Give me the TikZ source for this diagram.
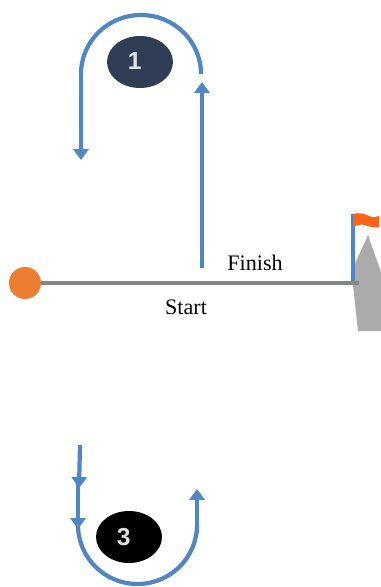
\documentclass[tikz,border=0pt]{standalone}
\usepackage{fontspec}
\setmainfont{Liberation Serif}
\newfontfamily\numfont{Liberation Sans}
\usetikzlibrary{arrows.meta, shapes.geometric}
\definecolor{trackblue}{HTML}{5086C1}
\definecolor{markorange}{HTML}{ED7D31}
\definecolor{flagorange}{HTML}{FF6418}
\definecolor{slate}{HTML}{2F3E54}
\tikzset{
    track/.style={draw=trackblue, line width=2.4pt},
    trackarrow/.style={track, -{Triangle[length=6.2pt, width=8.6pt]}},
    turnmark/.style={ellipse, minimum width=1.32cm, minimum height=1.04cm, inner sep=0pt, text=white!88!black, font=\numfont\bfseries\fontsize{14}{16}\selectfont},
    caption/.style={inner sep=0pt, font=\fontsize{12.6}{15}\selectfont},
}
\begin{document}
\begin{tikzpicture}[x=0.02cm, y=-0.02cm]
    \useasboundingbox (0, 0) rectangle (381, 587);
    % boat and flag
    \fill[black!33] (368, 235) -- (381, 272) -- (381, 331) -- (358, 331) -- (353, 285) -- (353, 268) -- cycle;
    \coordinate (poletop) at (353, 214);
    \coordinate (polefoot) at (353, 283);
    \draw[draw=trackblue, line width=1.8pt] (poletop) -- (polefoot);
    \fill[flagorange] (353, 214) .. controls (359, 212) and (365, 214) .. (369, 216) .. controls (373, 218) and (376, 217) .. (379, 216) -- (379, 227) .. controls (374, 228) and (370, 227) .. (365, 225) .. controls (361, 224) and (357, 225) .. (353, 227) -- cycle;
    % line
    \node[circle, fill=markorange, minimum size=0.64cm, inner sep=0pt] (buoy) at (25, 283) {};
    \coordinate (lineend) at (359, 283);
    \draw[draw=black!48, line width=2.2pt] (buoy) -- (lineend);
    \node[caption] (finish) at (255, 263) {Finish};
    \node[caption] (start) at (186, 307) {Start};
    % first turn
    \node[turnmark, fill=slate] (one) at (140, 62) {\makebox[0pt]{\raisebox{1.2pt}{\hspace{-6pt}1}}};
    \coordinate (oneup) at (202, 268);
    \coordinate (oneuptip) at (202, 82);
    \coordinate (onearc) at (201, 74);
    \coordinate (onedown) at (81, 71);
    \coordinate (onedowntip) at (81, 160);
    \draw[trackarrow] (oneup) -- (oneuptip);
    \draw[track] (onearc) arc[start angle=0, end angle=-180, x radius=60, y radius=59];
    \draw[trackarrow] (onedown) -- (onedowntip);
    % third turn
    \node[turnmark, fill=black] (three) at (129, 537) {\makebox[0pt]{\hspace{-6pt}3}};
    \coordinate (threein) at (80, 445);
    \coordinate (threeintip) at (79, 488);
    \coordinate (threemid) at (78, 482);
    \coordinate (threemidtip) at (78, 529);
    \coordinate (threearc) at (78, 525);
    \coordinate (threeup) at (197, 533);
    \coordinate (threeuptip) at (197, 489);
    \draw[trackarrow] (threein) -- (threeintip);
    \draw[trackarrow] (threemid) -- (threemidtip);
    \draw[track] (threearc) arc[start angle=180, end angle=0, x radius=59.5, y radius=59];
    \draw[trackarrow] (threeup) -- (threeuptip);
\end{tikzpicture}
\end{document}
